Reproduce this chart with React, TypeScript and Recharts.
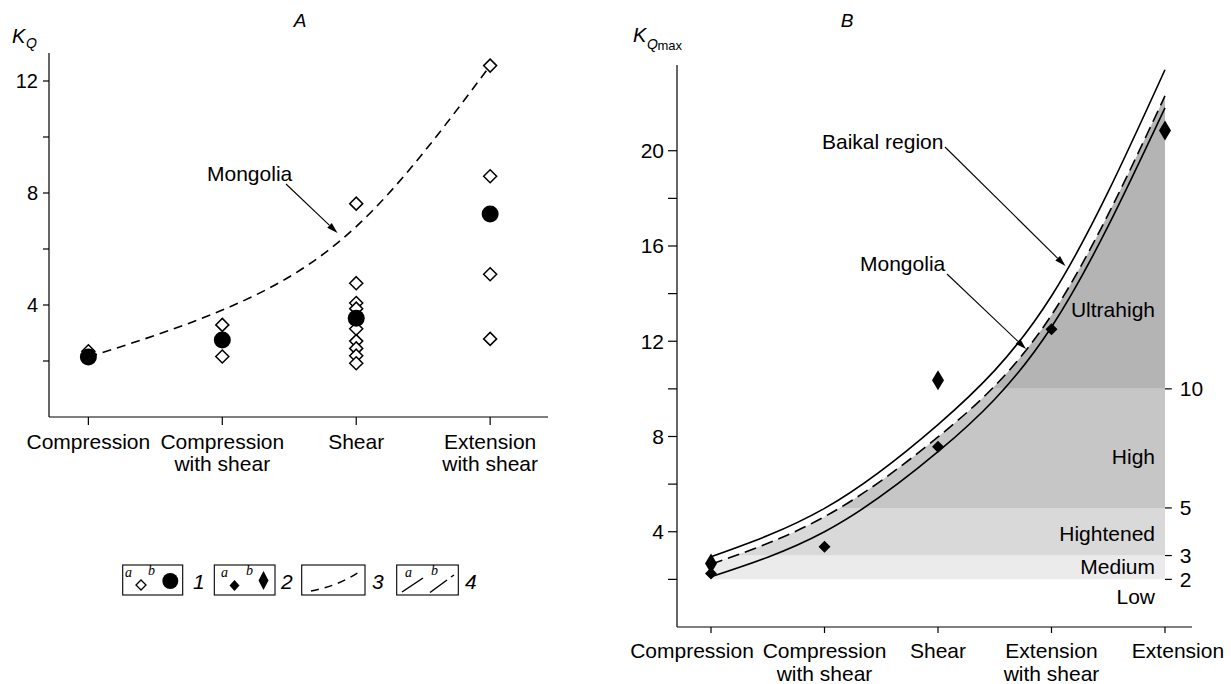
import React from 'react';
import { ComposedChart, Line, Scatter, Area, XAxis, YAxis, ReferenceLine } from 'recharts';

const FONT = '"Liberation Sans", Arial, Helvetica, sans-serif';
const SERIF = '"Liberation Serif", "DejaVu Serif", serif';

// ---------- Panel A ----------
const categoriesA = ['Compression', 'Compression|with shear', 'Shear', 'Extension|with shear'];
const meansA = [2.14, 2.75, 3.53, 7.25];
const mongoliaA = [2.14, 3.82, 6.8, 12.55];
const compressionA = [2.35];
const compShearA = [3.29, 2.16];
const shearA = [7.62, 4.78, 4.07, 3.87, 3.15, 2.71, 2.45, 2.19, 1.92];
const extShearA = [12.55, 8.6, 5.1, 2.79];
const yTicksA = [2, 4, 6, 8, 10, 12];

// ---------- Panel B ----------
const categoriesB = ['Compression', 'Compression|with shear', 'Shear', 'Extension|with shear', 'Extension'];
const baikalUpperB = [2.95, 4.98, 8.5, 13.9, 23.4];
const mongoliaB = [2.63, 4.63, 7.98, 13.1, 22.3];
const baikalLowerB = [2.11, 4.0, 7.36, 12.6, 21.8];
const smallDiamondsB = [2.25, 3.37, 7.57, 12.5];
const bigDiamondCats = [0, 2, 4];
const bigDiamondVals = [2.67, 10.36, 20.85];
const bandNames = ['Medium', 'Hightened', 'High', 'Ultrahigh'];
const bandLo = [2, 3, 5, 10];
const bandHi = [3, 5, 10, 23.6];
const bandColors = ['#ebebeb', '#d9d9d9', '#c6c6c6', '#b4b4b4'];
const levelTicksB = [10, 5, 3, 2];
const yTicksB = [2, 4, 6, 8, 10, 12, 14, 16, 18, 20];
const TOP_B = 23.6;

const toPts = (arr: number[]) => arr.map((y, i) => ({ x: i, y }));
const colPts = (x: number, arr: number[]) => arr.map((y) => ({ x, y }));

const openPtsA = [
  ...colPts(0, compressionA),
  ...colPts(1, compShearA),
  ...colPts(2, shearA),
  ...colPts(3, extShearA),
];
const meanPtsA = toPts(meansA);
const mongoliaPtsA = toPts(mongoliaA);

const upperPtsB = toPts(baikalUpperB);
const mongoliaPtsB = toPts(mongoliaB);
const lowerPtsB = toPts(baikalLowerB);
const smallPtsB = toPts(smallDiamondsB);
const bigPtsB = bigDiamondCats.map((c, i) => ({ x: c, y: bigDiamondVals[i] }));

const OpenDiamond = (p: any) => {
  const { cx, cy } = p;
  const r = 6.5;
  return <polygon points={`${cx},${cy - r} ${cx + r},${cy} ${cx},${cy + r} ${cx - r},${cy}`} fill="#fff" stroke="#000" strokeWidth={1.5} />;
};
const FilledCircle = (p: any) => <circle cx={p.cx} cy={p.cy} r={8.5} fill="#000" />;
const SmallDiamond = (p: any) => {
  const { cx, cy } = p;
  const r = 6;
  return <polygon points={`${cx},${cy - r} ${cx + r},${cy} ${cx},${cy + r} ${cx - r},${cy}`} fill="#000" />;
};
const TallDiamond = (p: any) => {
  const { cx, cy } = p;
  return <polygon points={`${cx},${cy - 10} ${cx + 6},${cy} ${cx},${cy + 10} ${cx - 6},${cy}`} fill="#000" />;
};

const makeCatTick = (cats: string[], dy1: number, lh: number, firstShift: number, lastShift: number) => (props: any) => {
  const { x, y, payload } = props;
  const idx = Math.round(payload.value);
  const lines = (cats[idx] || '').split('|');
  const dx = idx === cats.length - 1 ? lastShift : idx === 0 ? firstShift : 0;
  return (
    <text x={x + dx} y={y} textAnchor="middle" fontSize={21} fontFamily={FONT} fill="#000">
      {lines.map((l, i) => (
        <tspan key={i} x={x + dx} dy={i === 0 ? dy1 : lh}>{l}</tspan>
      ))}
    </text>
  );
};

const Arrow = ({ x1, y1, x2, y2 }: any) => {
  const a = Math.atan2(y2 - y1, x2 - x1);
  const L = 11, W = 3.3;
  const bx = x2 - L * Math.cos(a), by = y2 - L * Math.sin(a);
  const px = -Math.sin(a) * W, py = Math.cos(a) * W;
  return (
    <g>
      <line x1={x1} y1={y1} x2={bx} y2={by} stroke="#000" strokeWidth={1.1} />
      <polygon points={`${x2},${y2} ${bx + px},${by + py} ${bx - px},${by - py}`} fill="#000" />
    </g>
  );
};

const axisStyle = { stroke: '#000', strokeWidth: 1.2 };

export default function App() {
  return (
    <div style={{ position: 'absolute', left: 0, top: 0, width: 1231, height: 684, background: '#fff', overflow: 'hidden', fontFamily: FONT }}>
      <div style={{ position: 'absolute', left: 0, top: 0 }}>
        <ComposedChart width={560} height={520} margin={{ top: 53, right: 12, left: 0, bottom: 0 }}>
          <XAxis type="number" dataKey="x" domain={[-0.294, 3.432]} allowDataOverflow ticks={[0, 1, 2, 3]} interval={0}
            tick={makeCatTick(categoriesA, 22, 22, 0, 0)} tickSize={8} tickMargin={2} height={103}
            axisLine={axisStyle} tickLine={axisStyle} />
          <YAxis type="number" domain={[0, 13]} allowDataOverflow ticks={yTicksA} interval={0}
            tickFormatter={(v: number) => (v % 4 === 0 ? String(v) : '')} width={49} tickSize={6} tickMargin={5}
            tick={{ fontSize: 20, fill: '#000', fontFamily: FONT }} axisLine={axisStyle} tickLine={axisStyle} />
          <Line data={mongoliaPtsA} dataKey="y" type="natural" stroke="#000" strokeWidth={1.6} strokeDasharray="9 6" dot={false} activeDot={false} isAnimationActive={false} />
          <Scatter data={openPtsA} dataKey="y" shape={OpenDiamond} isAnimationActive={false} />
          <Scatter data={meanPtsA} dataKey="y" shape={FilledCircle} isAnimationActive={false} />
        </ComposedChart>
      </div>

      <div style={{ position: 'absolute', left: 600, top: 0 }}>
        <ComposedChart width={631} height={684} margin={{ top: 65, right: 39, left: 0, bottom: 0 }}>
          <XAxis type="number" dataKey="x" domain={[-0.2996, 4.238]} allowDataOverflow ticks={[0, 1, 2, 3, 4]} interval={0}
            tick={makeCatTick(categoriesB, 22.5, 23, -19, 13)} tickSize={6} tickMargin={2} height={57}
            axisLine={axisStyle} tickLine={axisStyle} />
          <YAxis type="number" domain={[0, TOP_B]} allowDataOverflow ticks={yTicksB} interval={0}
            tickFormatter={(v: number) => (v % 4 === 0 ? String(v) : '')} width={77} tickSize={9} tickMargin={4}
            tick={{ fontSize: 21, fill: '#000', fontFamily: FONT }} axisLine={axisStyle} tickLine={axisStyle} />
          {bandNames.map((n, i) => (
            <Area key={n} data={[{ x: 0 }, { x: 4 }]} dataKey={() => [bandLo[i], bandHi[i]]} type="linear"
              stroke="none" fill={bandColors[i]} fillOpacity={1} dot={false} activeDot={false} isAnimationActive={false} />
          ))}
          <Area data={mongoliaPtsB} dataKey={(d: any) => [d.y, TOP_B]} type="natural" stroke="none" fill="#fff" fillOpacity={1}
            dot={false} activeDot={false} isAnimationActive={false} />
          {levelTicksB.map((v) => (
            <ReferenceLine key={v} segment={[{ x: 4, y: v }, { x: 4.06, y: v }]} stroke="#000" strokeWidth={1.2} ifOverflow="visible"
              label={{ value: String(v), position: 'right', offset: 8, fontSize: 21, fill: '#000', fontFamily: FONT }} />
          ))}
          <Line data={upperPtsB} dataKey="y" type="natural" stroke="#000" strokeWidth={1.6} dot={false} activeDot={false} isAnimationActive={false} />
          <Line data={mongoliaPtsB} dataKey="y" type="natural" stroke="#000" strokeWidth={1.6} strokeDasharray="12 6" dot={false} activeDot={false} isAnimationActive={false} />
          <Line data={lowerPtsB} dataKey="y" type="natural" stroke="#000" strokeWidth={1.6} dot={false} activeDot={false} isAnimationActive={false} />
          <Scatter data={smallPtsB} dataKey="y" shape={SmallDiamond} isAnimationActive={false} />
          <Scatter data={bigPtsB} dataKey="y" shape={TallDiamond} isAnimationActive={false} />
        </ComposedChart>
      </div>

      <svg width={1231} height={684} style={{ position: 'absolute', left: 0, top: 0, pointerEvents: 'none' }} fontFamily={FONT}>
        {/* titles */}
        <text x={300} y={27} textAnchor="middle" fontSize={19} fontStyle="italic">A</text>
        <text x={847} y={27} textAnchor="middle" fontSize={19} fontStyle="italic">B</text>
        <text x={12} y={43} fontSize={20} fontStyle="italic">K</text>
        <text x={26} y={48} fontSize={14} fontStyle="italic">Q</text>
        <text x={633} y={42} fontSize={20} fontStyle="italic">K</text>
        <text x={647} y={48.5} fontSize={14} fontStyle="italic">Q</text>
        <text x={657.5} y={49.5} fontSize={13}>max</text>

        {/* annotations panel A */}
        <text x={207} y={181} fontSize={21}>Mongolia</text>
        <Arrow x1={286} y1={184} x2={337.5} y2={233} />

        {/* annotations panel B */}
        <text x={822} y={148.5} fontSize={21}>Baikal region</text>
        <Arrow x1={945} y1={147} x2={1065.5} y2={266} />
        <text x={860} y={271} fontSize={21}>Mongolia</text>
        <Arrow x1={947} y1={274} x2={1026} y2={349} />

        {/* band labels */}
        <text x={1155} y={317} fontSize={21} textAnchor="end">Ultrahigh</text>
        <text x={1155} y={463.5} fontSize={21} textAnchor="end">High</text>
        <text x={1155} y={541} fontSize={21} textAnchor="end">Hightened</text>
        <text x={1155} y={574} fontSize={21} textAnchor="end">Medium</text>
        <text x={1155} y={604} fontSize={21} textAnchor="end">Low</text>

        {/* legend */}
        <g stroke="#000" fill="none" strokeWidth={1.1}>
          <rect x={122.7} y={565} width={60} height={30} />
          <rect x={214.3} y={565} width={60.7} height={30} />
          <rect x={301.7} y={565} width={63.3} height={30} />
          <rect x={396.7} y={565} width={61.6} height={30} />
        </g>
        <text x={125} y={577} fontSize={14} fontStyle="italic" fontFamily={SERIF}>a</text>
        <polygon points="141,580 146,585 141,590 136,585" fill="#fff" stroke="#000" strokeWidth={1.3} />
        <text x={148} y={575} fontSize={14} fontStyle="italic" fontFamily={SERIF}>b</text>
        <circle cx={170.3} cy={581} r={8} fill="#000" />
        <text x={193} y={588.5} fontSize={21} fontStyle="italic">1</text>

        <text x={221} y={577} fontSize={14} fontStyle="italic" fontFamily={SERIF}>a</text>
        <polygon points="234.5,580 239.5,585.5 234.5,591 229.5,585.5" fill="#000" />
        <text x={246} y={575} fontSize={14} fontStyle="italic" fontFamily={SERIF}>b</text>
        <polygon points="263.5,571 268.5,580.5 263.5,590 258.5,580.5" fill="#000" />
        <text x={281} y={588.5} fontSize={21} fontStyle="italic">2</text>

        <path d="M 311 591 Q 338 586 359 572" stroke="#000" strokeWidth={1.5} fill="none" strokeDasharray="8 6" />
        <text x={372} y={588.5} fontSize={21} fontStyle="italic">3</text>

        <text x={405} y={577} fontSize={14} fontStyle="italic" fontFamily={SERIF}>a</text>
        <line x1={402} y1={592} x2={423} y2={578} stroke="#000" strokeWidth={1.5} />
        <text x={431} y={575} fontSize={14} fontStyle="italic" fontFamily={SERIF}>b</text>
        <line x1={430} y1={592.5} x2={447} y2={580} stroke="#000" strokeWidth={1.5} />
        <line x1={451} y1={577} x2={454} y2={575} stroke="#000" strokeWidth={1.5} />
        <text x={465} y={588.5} fontSize={21} fontStyle="italic">4</text>
      </svg>
    </div>
  );
}
